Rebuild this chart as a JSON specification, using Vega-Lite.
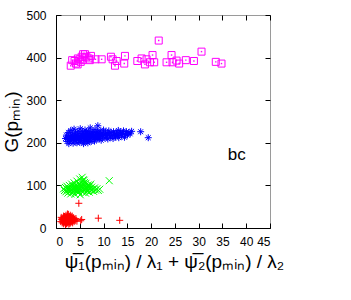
{
 "$schema": "https://vega.github.io/schema/vega-lite/v6.json",
 "width": 214, "height": 213,
 "autosize": {"type": "none"},
 "padding": {"left": 56, "top": 15, "right": 81, "bottom": 72},
 "background": "white",
 "config": {
  "view": {"stroke": "#9a9a9a", "strokeWidth": 1},
  "font": "Liberation Sans",
  "axis": {"grid": false, "labelFont": "Liberation Sans", "labelFontSize": 12, "labelColor": "#000", "titleFont": "Liberation Sans", "titleFontSize": 19, "titleFontWeight": "normal", "titleColor": "#000", "domainColor": "#000", "tickColor": "#000", "tickSize": -5}
 },
 "datasets": {
  "pts": [
   {"s":"r","x":1.0,"y":15},{"s":"r","x":1.2,"y":20},{"s":"r","x":1.3,"y":12},{"s":"r","x":1.4,"y":18},{"s":"r","x":1.5,"y":24},{"s":"r","x":1.5,"y":14},{"s":"r","x":1.6,"y":10},{"s":"r","x":1.7,"y":20},{"s":"r","x":1.8,"y":27},{"s":"r","x":1.8,"y":16},{"s":"r","x":1.9,"y":12},{"s":"r","x":2.0,"y":22},{"s":"r","x":2.0,"y":18},{"s":"r","x":2.1,"y":30},{"s":"r","x":2.1,"y":14},{"s":"r","x":2.2,"y":25},{"s":"r","x":2.2,"y":10},{"s":"r","x":2.3,"y":20},{"s":"r","x":2.3,"y":16},{"s":"r","x":2.4,"y":28},{"s":"r","x":2.4,"y":12},{"s":"r","x":2.5,"y":22},{"s":"r","x":2.5,"y":18},{"s":"r","x":2.6,"y":32},{"s":"r","x":2.6,"y":14},{"s":"r","x":2.7,"y":24},{"s":"r","x":2.7,"y":9},{"s":"r","x":2.8,"y":19},{"s":"r","x":2.8,"y":27},{"s":"r","x":2.9,"y":15},{"s":"r","x":2.9,"y":21},{"s":"r","x":3.0,"y":12},{"s":"r","x":3.0,"y":25},{"s":"r","x":3.1,"y":18},{"s":"r","x":3.1,"y":22},{"s":"r","x":3.2,"y":14},{"s":"r","x":3.3,"y":20},{"s":"r","x":3.3,"y":26},{"s":"r","x":3.4,"y":16},{"s":"r","x":3.5,"y":22},{"s":"r","x":3.5,"y":12},{"s":"r","x":3.6,"y":18},{"s":"r","x":3.7,"y":24},{"s":"r","x":3.8,"y":15},{"s":"r","x":3.9,"y":20},{"s":"r","x":4.0,"y":17},{"s":"r","x":4.2,"y":22},{"s":"r","x":4.4,"y":16},{"s":"r","x":1.1,"y":25},{"s":"r","x":1.6,"y":28},{"s":"r","x":2.0,"y":8},{"s":"r","x":2.4,"y":33},{"s":"r","x":3.0,"y":30},{"s":"r","x":1.3,"y":22},{"s":"r","x":2.2,"y":20},{"s":"r","x":2.6,"y":17},{"s":"r","x":2.9,"y":11},{"s":"r","x":3.4,"y":28},{"s":"r","x":1.7,"y":13},{"s":"r","x":2.5,"y":26},
   {"s":"r","x":4.8,"y":58},{"s":"r","x":5.2,"y":17},{"s":"r","x":5.4,"y":20},{"s":"r","x":8.9,"y":23},{"s":"r","x":13.4,"y":18},
   {"s":"g","x":1.6,"y":92},{"s":"g","x":1.8,"y":88},{"s":"g","x":2.0,"y":95},{"s":"g","x":2.1,"y":85},{"s":"g","x":2.3,"y":98},{"s":"g","x":2.4,"y":90},{"s":"g","x":2.5,"y":82},{"s":"g","x":2.6,"y":94},{"s":"g","x":2.8,"y":100},{"s":"g","x":2.9,"y":87},{"s":"g","x":3.0,"y":92},{"s":"g","x":3.1,"y":80},{"s":"g","x":3.2,"y":96},{"s":"g","x":3.3,"y":103},{"s":"g","x":3.4,"y":89},{"s":"g","x":3.5,"y":84},{"s":"g","x":3.6,"y":98},{"s":"g","x":3.7,"y":93},{"s":"g","x":3.8,"y":106},{"s":"g","x":3.9,"y":88},{"s":"g","x":4.0,"y":79},{"s":"g","x":4.1,"y":95},{"s":"g","x":4.2,"y":101},{"s":"g","x":4.3,"y":86},{"s":"g","x":4.4,"y":110},{"s":"g","x":4.5,"y":92},{"s":"g","x":4.6,"y":97},{"s":"g","x":4.7,"y":83},{"s":"g","x":4.8,"y":104},{"s":"g","x":4.9,"y":90},{"s":"g","x":5.0,"y":115},{"s":"g","x":5.0,"y":95},{"s":"g","x":5.1,"y":78},{"s":"g","x":5.2,"y":100},{"s":"g","x":5.3,"y":88},{"s":"g","x":5.4,"y":108},{"s":"g","x":5.5,"y":93},{"s":"g","x":5.5,"y":119},{"s":"g","x":5.6,"y":84},{"s":"g","x":5.7,"y":102},{"s":"g","x":5.8,"y":96},{"s":"g","x":5.9,"y":112},{"s":"g","x":6.0,"y":89},{"s":"g","x":6.1,"y":99},{"s":"g","x":6.2,"y":82},{"s":"g","x":6.3,"y":105},{"s":"g","x":6.4,"y":92},{"s":"g","x":6.5,"y":97},{"s":"g","x":6.6,"y":86},{"s":"g","x":6.7,"y":101},{"s":"g","x":6.8,"y":90},{"s":"g","x":6.9,"y":95},{"s":"g","x":7.0,"y":84},{"s":"g","x":7.1,"y":99},{"s":"g","x":7.2,"y":92},{"s":"g","x":7.4,"y":88},{"s":"g","x":7.5,"y":96},{"s":"g","x":7.7,"y":91},{"s":"g","x":7.9,"y":86},{"s":"g","x":8.1,"y":94},{"s":"g","x":8.3,"y":89},{"s":"g","x":8.6,"y":92},{"s":"g","x":8.9,"y":88},{"s":"g","x":9.2,"y":91},{"s":"g","x":3.0,"y":86},{"s":"g","x":4.0,"y":99},{"s":"g","x":4.5,"y":87},{"s":"g","x":5.0,"y":102},{"s":"g","x":5.3,"y":97},{"s":"g","x":5.8,"y":90},{"s":"g","x":6.3,"y":94},{"s":"g","x":6.8,"y":98},{"s":"g","x":2.2,"y":93},{"s":"g","x":3.5,"y":91},{"s":"g","x":4.8,"y":85},{"s":"g","x":6.0,"y":107},{"s":"g","x":5.7,"y":113},{"s":"g","x":4.2,"y":93},{"s":"g","x":7.3,"y":103},{"s":"g","x":2.7,"y":89},
   {"s":"g","x":11.2,"y":111},
   {"s":"b","x":2.0,"y":210},{"s":"b","x":2.2,"y":218},{"s":"b","x":2.3,"y":203},{"s":"b","x":2.5,"y":213},{"s":"b","x":2.6,"y":224},{"s":"b","x":2.7,"y":198},{"s":"b","x":2.8,"y":208},{"s":"b","x":3.0,"y":216},{"s":"b","x":3.1,"y":229},{"s":"b","x":3.2,"y":204},{"s":"b","x":3.3,"y":212},{"s":"b","x":3.5,"y":221},{"s":"b","x":3.6,"y":199},{"s":"b","x":3.7,"y":209},{"s":"b","x":3.8,"y":232},{"s":"b","x":3.9,"y":215},{"s":"b","x":4.0,"y":205},{"s":"b","x":4.1,"y":223},{"s":"b","x":4.2,"y":211},{"s":"b","x":4.4,"y":200},{"s":"b","x":4.5,"y":218},{"s":"b","x":4.6,"y":227},{"s":"b","x":4.7,"y":207},{"s":"b","x":4.8,"y":214},{"s":"b","x":5.0,"y":222},{"s":"b","x":5.0,"y":201},{"s":"b","x":5.1,"y":233},{"s":"b","x":5.2,"y":210},{"s":"b","x":5.3,"y":217},{"s":"b","x":5.5,"y":205},{"s":"b","x":5.6,"y":226},{"s":"b","x":5.7,"y":213},{"s":"b","x":5.8,"y":198},{"s":"b","x":5.9,"y":220},{"s":"b","x":6.0,"y":209},{"s":"b","x":6.1,"y":230},{"s":"b","x":6.2,"y":215},{"s":"b","x":6.3,"y":203},{"s":"b","x":6.4,"y":223},{"s":"b","x":6.5,"y":211},{"s":"b","x":6.6,"y":219},{"s":"b","x":6.7,"y":200},{"s":"b","x":6.8,"y":227},{"s":"b","x":6.9,"y":214},{"s":"b","x":7.0,"y":207},{"s":"b","x":7.1,"y":222},{"s":"b","x":7.2,"y":235},{"s":"b","x":7.3,"y":212},{"s":"b","x":7.4,"y":203},{"s":"b","x":7.5,"y":218},{"s":"b","x":7.6,"y":226},{"s":"b","x":7.8,"y":209},{"s":"b","x":7.9,"y":216},{"s":"b","x":8.0,"y":224},{"s":"b","x":8.1,"y":204},{"s":"b","x":8.2,"y":231},{"s":"b","x":8.3,"y":213},{"s":"b","x":8.5,"y":220},{"s":"b","x":8.6,"y":208},{"s":"b","x":8.7,"y":226},{"s":"b","x":8.8,"y":240},{"s":"b","x":8.9,"y":215},{"s":"b","x":9.0,"y":222},{"s":"b","x":9.1,"y":210},{"s":"b","x":9.3,"y":228},{"s":"b","x":9.4,"y":217},{"s":"b","x":9.5,"y":206},{"s":"b","x":9.7,"y":223},{"s":"b","x":9.8,"y":213},{"s":"b","x":10.0,"y":230},{"s":"b","x":10.1,"y":219},{"s":"b","x":10.3,"y":211},{"s":"b","x":10.4,"y":225},{"s":"b","x":10.6,"y":216},{"s":"b","x":10.8,"y":222},{"s":"b","x":10.9,"y":209},{"s":"b","x":11.1,"y":228},{"s":"b","x":11.2,"y":218},{"s":"b","x":11.4,"y":213},{"s":"b","x":11.6,"y":224},{"s":"b","x":11.8,"y":217},{"s":"b","x":12.0,"y":210},{"s":"b","x":12.1,"y":226},{"s":"b","x":12.3,"y":220},{"s":"b","x":12.5,"y":214},{"s":"b","x":12.7,"y":223},{"s":"b","x":12.9,"y":217},{"s":"b","x":13.1,"y":229},{"s":"b","x":13.2,"y":212},{"s":"b","x":13.4,"y":221},{"s":"b","x":13.6,"y":225},{"s":"b","x":13.8,"y":216},{"s":"b","x":14.0,"y":222},{"s":"b","x":14.2,"y":228},{"s":"b","x":14.4,"y":213},{"s":"b","x":14.6,"y":220},{"s":"b","x":14.8,"y":226},{"s":"b","x":15.0,"y":218},{"s":"b","x":15.3,"y":224},{"s":"b","x":15.6,"y":221},{"s":"b","x":15.9,"y":227},{"s":"b","x":3.4,"y":218},{"s":"b","x":4.3,"y":210},{"s":"b","x":5.4,"y":213},{"s":"b","x":6.2,"y":221},{"s":"b","x":7.0,"y":215},{"s":"b","x":7.7,"y":220},{"s":"b","x":8.4,"y":217},{"s":"b","x":9.2,"y":219},{"s":"b","x":2.4,"y":210},{"s":"b","x":3.0,"y":207},{"s":"b","x":4.9,"y":209},{"s":"b","x":6.6,"y":207},
   {"s":"b","x":17.8,"y":226},{"s":"b","x":19.4,"y":212},
   {"s":"m","x":3.1,"y":381},{"s":"m","x":3.4,"y":394},{"s":"m","x":4.55,"y":384},{"s":"m","x":4.2,"y":386},{"s":"m","x":5.0,"y":396},{"s":"m","x":5.4,"y":402},{"s":"m","x":5.7,"y":408},{"s":"m","x":6.1,"y":408},{"s":"m","x":5.6,"y":394},{"s":"m","x":7.1,"y":394},{"s":"m","x":7.35,"y":404},{"s":"m","x":8.3,"y":396},{"s":"m","x":9.6,"y":396},{"s":"m","x":11.55,"y":402},{"s":"m","x":11.9,"y":396},{"s":"m","x":12.4,"y":381},{"s":"m","x":12.75,"y":392},{"s":"m","x":14.35,"y":386},{"s":"m","x":14.5,"y":404},{"s":"m","x":17.1,"y":392},{"s":"m","x":18.0,"y":398},{"s":"m","x":18.7,"y":384},{"s":"m","x":19.05,"y":396},{"s":"m","x":19.75,"y":389},{"s":"m","x":20.3,"y":406},{"s":"m","x":20.65,"y":389},{"s":"m","x":21.6,"y":440},{"s":"m","x":23.25,"y":389},{"s":"m","x":24.3,"y":406},{"s":"m","x":24.5,"y":389},{"s":"m","x":25.35,"y":393},{"s":"m","x":25.9,"y":386},{"s":"m","x":27.3,"y":394},{"s":"m","x":29.0,"y":392},{"s":"m","x":30.6,"y":414},{"s":"m","x":33.6,"y":390},{"s":"m","x":34.8,"y":386},{"s":"m","x":3.9,"y":392},{"s":"m","x":4.6,"y":398},{"s":"m","x":6.4,"y":402},{"s":"m","x":6.9,"y":398},{"s":"m","x":5.2,"y":390}
  ]
 },
 "layer": [
  {
   "data": {"name": "pts"},
   "mark": {"type": "point", "filled": false, "strokeWidth": 1, "size": 49, "opacity": 1},
   "encoding": {
    "x": {"field": "x", "type": "quantitative", "scale": {"domain": [0, 45], "nice": false, "zero": false},
      "axis": {"title": "ψ̅₁(pₘᵢₙ) / λ₁ + ψ̅₂(pₘᵢₙ) / λ₂", "values": [0,5,10,15,20,25,30,35,40,45], "labelPadding": 13, "titlePadding": 5, "titleX": 118}},
    "y": {"field": "y", "type": "quantitative", "scale": {"domain": [0, 500], "nice": false, "zero": false},
      "axis": {"title": "G(pₘᵢₙ)", "values": [0,100,200,300,400,500], "labelPadding": 15, "titlePadding": 4}},
    "color": {"field": "s", "type": "nominal", "scale": {"domain": ["r","g","b","m"], "range": ["#ff0000","#00ff00","#0000ff","#ff00ff"]}, "legend": null},
    "shape": {"field": "s", "type": "nominal", "scale": {"domain": ["r","g","b","m"], "range": ["M-1,0H1M0,-1V1", "M-1,-1L1,1M-1,1L1,-1", "M-1,0H1M0,-1V1M-0.7,-0.7L0.7,0.7M-0.7,0.7L0.7,-0.7", "M-1,-1H1V1H-1Z"]}, "legend": null}
   }
  },
  {
   "data": {"name": "pts"},
   "transform": [{"filter": "datum.s == 'm'"}],
   "mark": {"type": "point", "shape": "square", "filled": true, "size": 2, "color": "#ff00ff", "opacity": 1},
   "encoding": {
    "x": {"field": "x", "type": "quantitative", "axis": null},
    "y": {"field": "y", "type": "quantitative", "axis": null}
   }
  },
  {
   "data": {"values": [{"x": 38, "y": 171, "t": "bc"}]},
   "mark": {"type": "text", "fontSize": 17, "font": "Liberation Sans", "color": "#000", "fontWeight": "normal"},
   "encoding": {
    "x": {"field": "x", "type": "quantitative", "axis": {"orient": "top", "labels": false, "domain": false, "title": null, "values": [0,5,10,15,20,25,30,35,40,45]}},
    "y": {"field": "y", "type": "quantitative", "axis": {"orient": "right", "labels": false, "domain": false, "title": null, "values": [0,100,200,300,400,500]}},
    "text": {"field": "t"}
   }
  }
 ],
 "resolve": {"axis": {"x": "independent", "y": "independent"}}
}
